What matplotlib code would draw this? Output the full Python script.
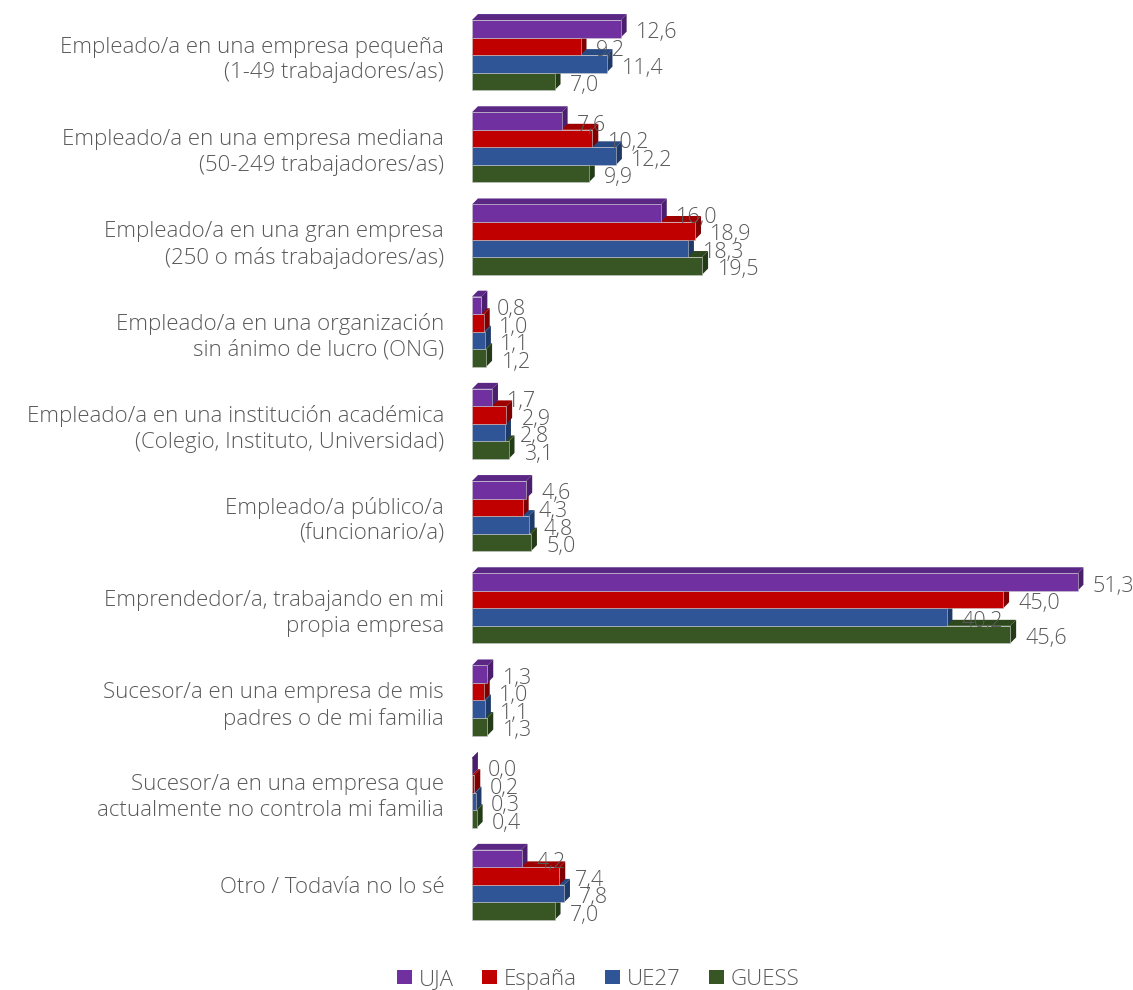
import matplotlib.pyplot as plt
from matplotlib.patches import Polygon, Patch

plt.rcParams['font.family'] = ['Open Sans', 'DejaVu Sans']
plt.rcParams['font.weight'] = 'light'

categories = [
    "Empleado/a en una empresa pequeña\n(1-49 trabajadores/as)",
    "Empleado/a en una empresa mediana\n(50-249 trabajadores/as)",
    "Empleado/a en una gran empresa\n(250 o más trabajadores/as)",
    "Empleado/a en una organización\nsin ánimo de lucro (ONG)",
    "Empleado/a en una institución académica\n(Colegio, Instituto, Universidad)",
    "Empleado/a público/a\n(funcionario/a)",
    "Emprendedor/a, trabajando en mi\npropia empresa",
    "Sucesor/a en una empresa de mis\npadres o de mi familia",
    "Sucesor/a en una empresa que\nactualmente no controla mi familia",
    "Otro / Todavía no lo sé",
]
series_names = ["UJA", "España", "UE27", "GUESS"]
uja = [12.6, 7.6, 16.0, 0.8, 1.7, 4.6, 51.3, 1.3, 0.0, 4.2]
espana = [9.2, 10.2, 18.9, 1.0, 2.9, 4.3, 45.0, 1.0, 0.2, 7.4]
ue27 = [11.4, 12.2, 18.3, 1.1, 2.8, 4.8, 40.2, 1.1, 0.3, 7.8]
guess = [7.0, 9.9, 19.5, 1.2, 3.1, 5.0, 45.6, 1.3, 0.4, 7.0]
series = [uja, espana, ue27, guess]

front = ["#7030A0", "#C00000", "#2F5597", "#375623"]
side = ["#4B1F6E", "#7E0000", "#1F3A68", "#243B17"]
top = ["#5A2785", "#9E0000", "#274A85", "#2D481C"]
txt = "#595959"

fig = plt.figure(figsize=(11.33, 9.9), dpi=100)
ax = fig.add_axes([0.4166, 0.0596, 0.5834, 0.9313])

bh = 0.19
dx = 0.5     # depth in x data units (~6px)
dy = 0.065   # depth in y category units (~6px)

# draw from the bottom bar of each group up so upper fronts hide lower tops
for s in range(3, -1, -1):
    vals = series[s]
    for i, v in enumerate(vals):
        yc = i + (s - 1.5) * bh
        y0 = yc + bh / 2   # bottom edge (y inverted)
        y1 = yc - bh / 2   # top edge
        # top face
        ax.add_patch(Polygon([(0, y1), (v, y1), (v + dx, y1 - dy), (dx, y1 - dy)],
                             closed=True, facecolor=top[s], edgecolor='none', zorder=2))
        # side face
        ax.add_patch(Polygon([(v, y1), (v + dx, y1 - dy), (v + dx, y0 - dy), (v, y0)],
                             closed=True, facecolor=side[s], edgecolor='none', zorder=2))
        # front face
        ax.add_patch(Polygon([(0, y0), (v, y0), (v, y1), (0, y1)],
                             closed=True, facecolor=front[s], edgecolor='#C8C8C8',
                             linewidth=0.4, zorder=2))
        ax.annotate(f"{v:.1f}".replace('.', ','), (v, yc), xytext=(11, -3),
                    textcoords='offset points', va='center', ha='left',
                    fontsize=15.5, color=txt, zorder=3)

ax.set_xlim(0, 56)
ax.set_ylim(len(categories) - 0.5, -0.5)
ax.set_yticks(range(len(categories)))
ax.set_yticklabels(categories, fontsize=16, color=txt, linespacing=1.3)
ax.tick_params(axis='y', length=0, pad=20)
ax.set_xticks([])
for sp in ax.spines.values():
    sp.set_visible(False)

handles = [Patch(facecolor=front[k], edgecolor='none') for k in range(4)]
leg = fig.legend(handles, series_names, loc='lower center', bbox_to_anchor=(0.528, -0.02),
                 ncol=4, frameon=False, fontsize=16, handlelength=0.65, handleheight=0.65,
                 handletextpad=0.3, columnspacing=1.3)
for t in leg.get_texts():
    t.set_color(txt)

fig.savefig("out.png", dpi=100)
